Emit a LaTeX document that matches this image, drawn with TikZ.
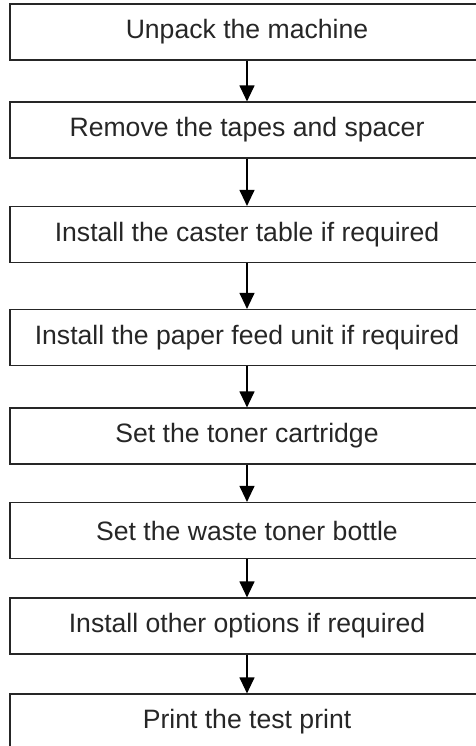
\documentclass[tikz,border=0pt]{standalone}
\usepackage{fontspec}
\setmainfont{Liberation Sans}
\usepackage{tikz}
\usetikzlibrary{arrows.meta,shapes,arrows}

\begin{document}
\begin{tikzpicture}[x=0.5pt,y=-0.5pt]
      \useasboundingbox (0,0) rectangle (476,746);
      \begin{scope}[every node/.style={rectangle,draw=black!85,line width=0.6pt,
          minimum width=237pt,minimum height=28pt,inner sep=0pt,
          font=\fontsize{13.3}{15}\selectfont,text=black!85}]
        \node (0) at (247,32)    {Unpack the machine};
        \node (1) at (247,130)   {Remove the tapes and spacer};
        \node (2) at (247,234.5) {Install the caster table if required};
        \node (3) at (247,337.5) {Install the paper feed unit if required};
        \node (4) at (247,436)   {Set the toner cartridge};
        \node (5) at (247,530.5) {Set the waste toner bottle};
        \node (6) at (247,626)   {Install other options if required};
        \node (7) at (247,722)   {Print the test print};
      \end{scope}
      \begin{scope}[>={Triangle[length=8pt,width=7.5pt]},every edge/.style={draw=black,line width=0.6pt}]
        \path[->] (0) edge (1);
        \path[->] (1) edge (2);
        \path[->] (2) edge (3);
        \path[->] (3) edge (4);
        \path[->] (4) edge (5);
        \path[->] (5) edge (6);
        \path[->] (6) edge (7);
      \end{scope}
    \end{tikzpicture}
\end{document}
